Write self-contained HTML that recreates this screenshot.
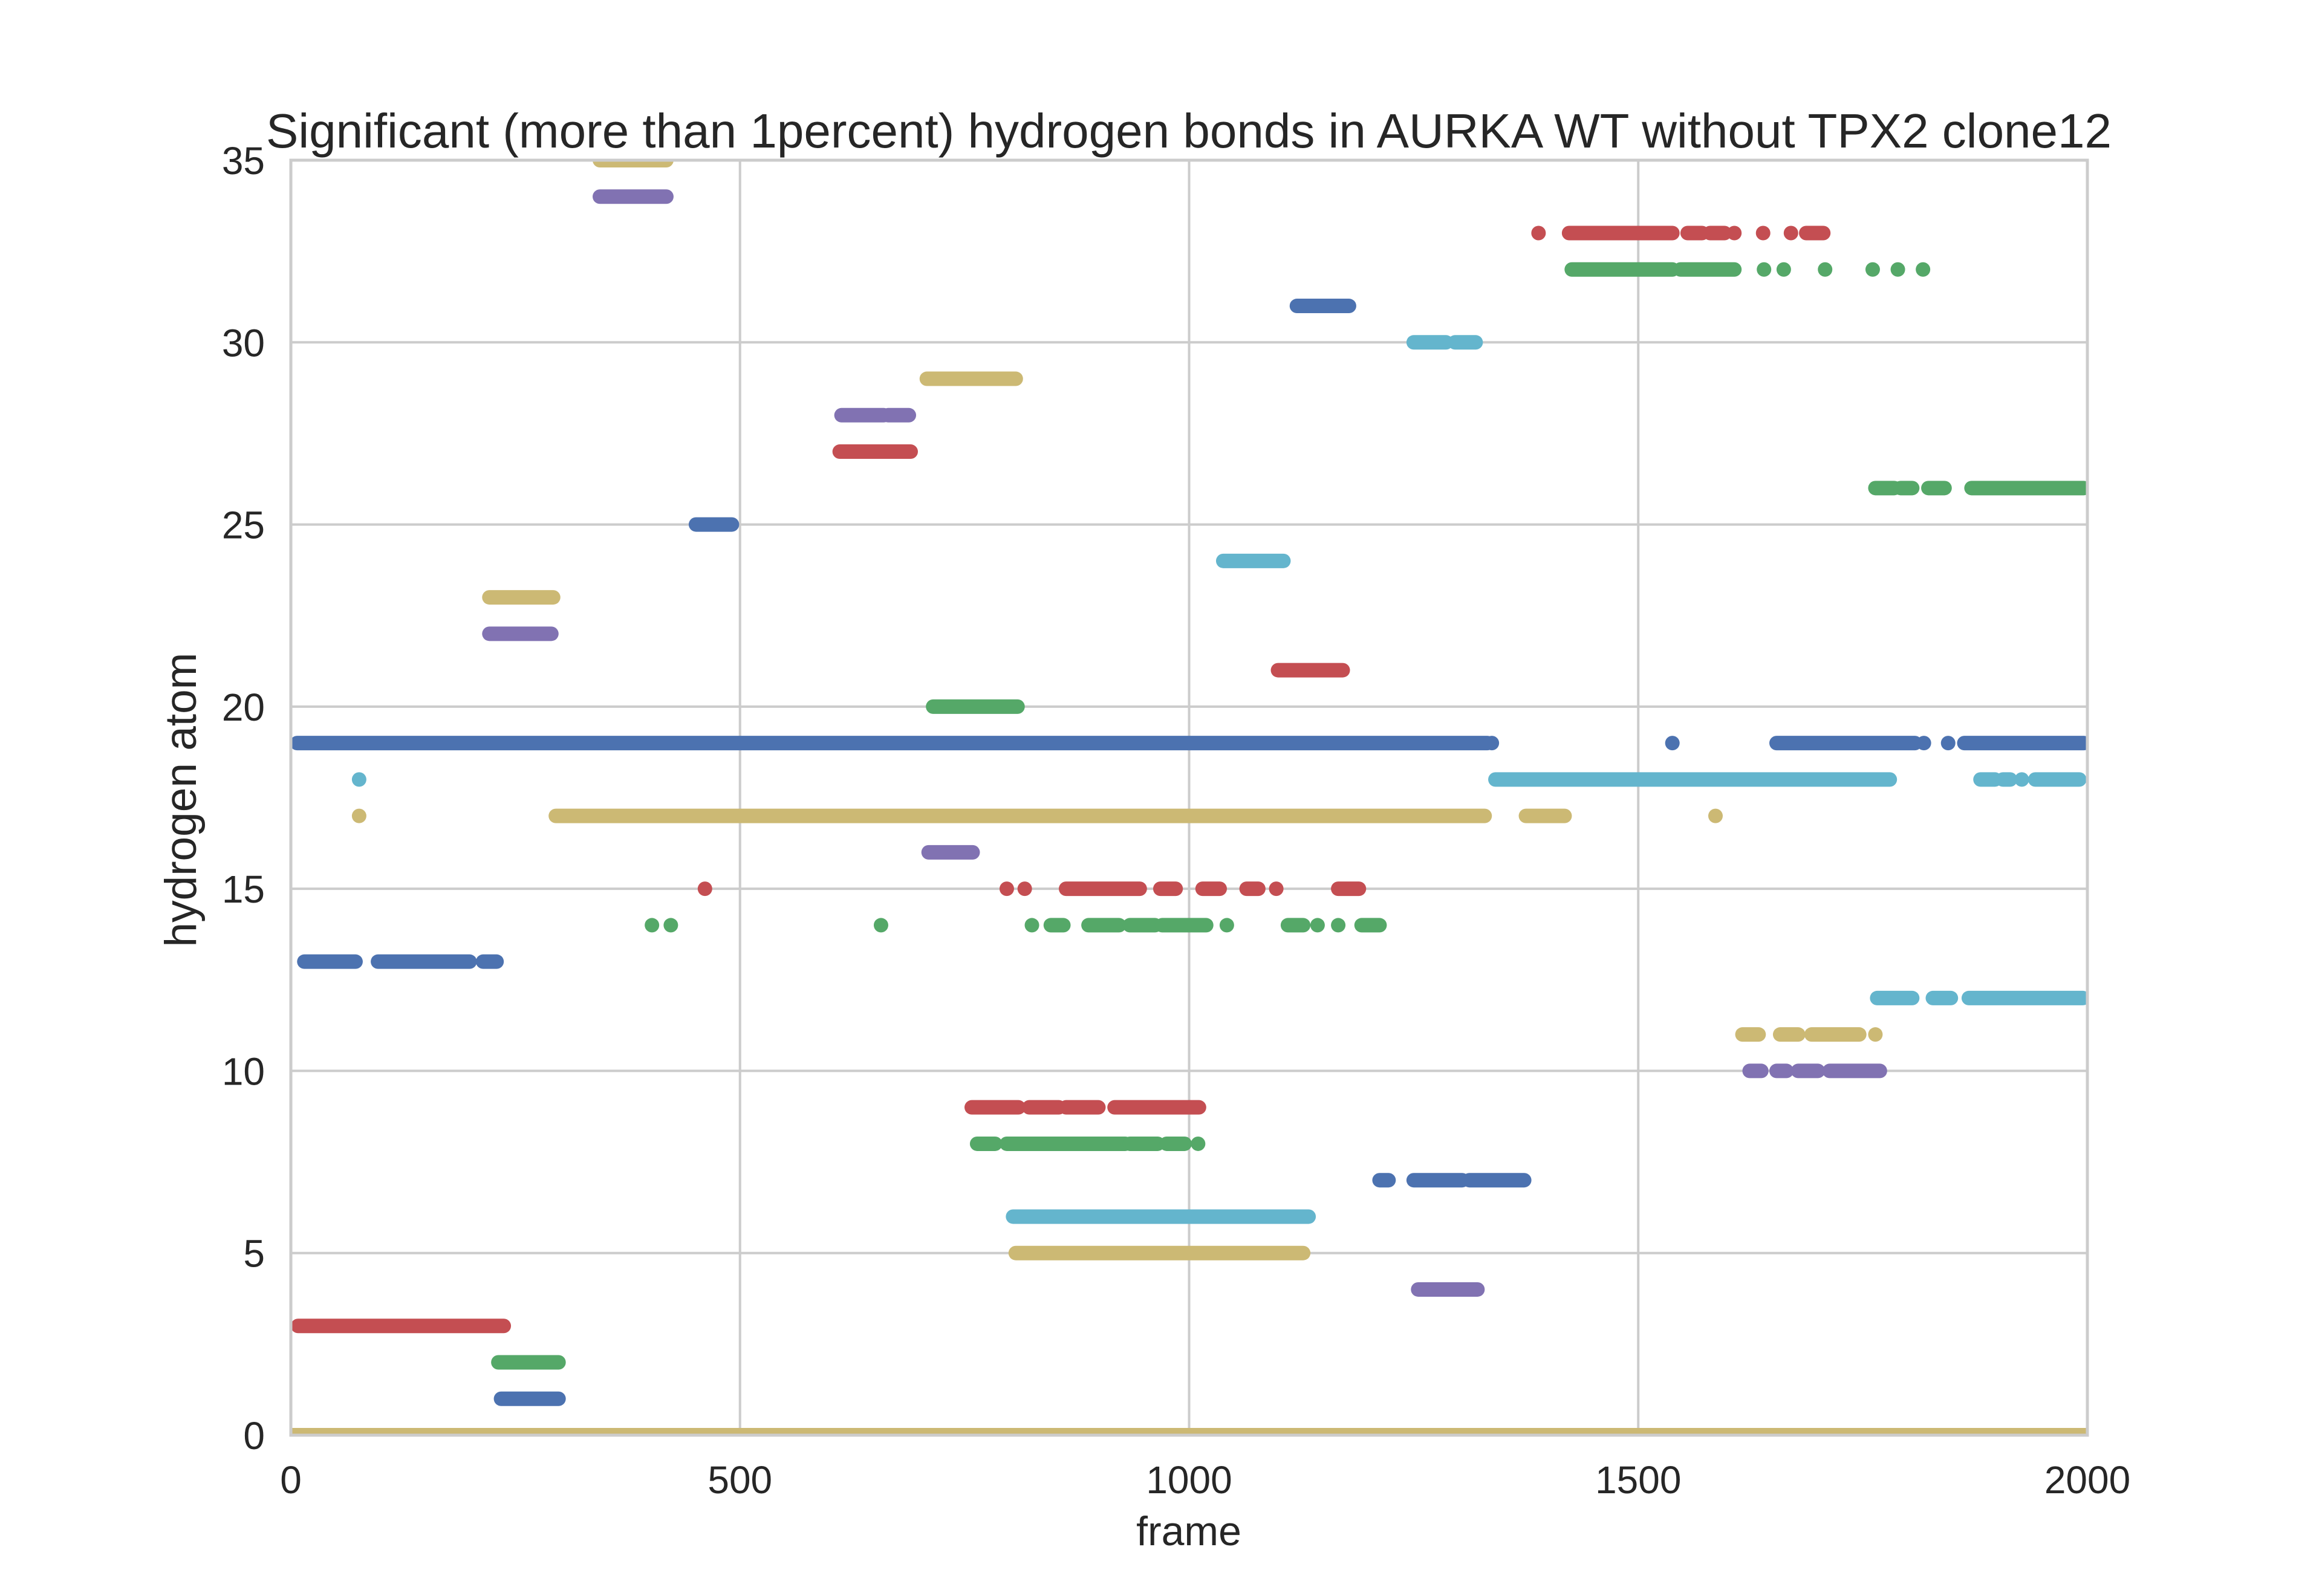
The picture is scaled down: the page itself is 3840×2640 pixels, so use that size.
<!DOCTYPE html>
<html><head><meta charset="utf-8"><style>
html,body{margin:0;padding:0;background:#fff;}
svg{display:block;}
text{font-family:"Liberation Sans",sans-serif;fill:#262626;}
</style></head><body>
<svg id="chart" width="3840" height="2640" viewBox="0 0 3840 2640">
<defs><clipPath id="plotclip"><rect x="481" y="265" width="2971" height="2109"/></clipPath></defs>
<rect x="481" y="265" width="2971" height="2109" fill="#fff"/>
<g id="grid"></g>
<g id="marks" clip-path="url(#plotclip)"></g>
<rect x="481" y="265" width="2971" height="2109" fill="none" stroke="#cccccc" stroke-width="5"/>
<g id="ticks"></g>
<text x="1966" y="244" font-size="80" text-anchor="middle">Significant (more than 1percent) hydrogen bonds in AURKA WT without TPX2 clone12</text>
<text x="1966" y="2556" font-size="68" text-anchor="middle">frame</text>
<text x="0" y="0" font-size="73" text-anchor="middle" transform="translate(324,1323) rotate(-90)">hydrogen atom</text>
</svg>
<script>
const xTicks = [0, 500, 1000, 1500, 2000];
const yTicks = [0, 5, 10, 15, 20, 25, 30, 35];
const palette = ["#4c72b0", "#55a868", "#c44e52", "#8172b2", "#ccb974", "#64b5cd"];
// each entry: [hydrogen atom index, startFrame, endFrame]
const runs = [
[35,344,418],[34,344,418],
[33,1389,1389],[33,1423,1538],[33,1555,1571],[33,1580,1596],[33,1607,1607],[33,1639,1639],[33,1670,1670],[33,1687,1706],
[32,1426,1538],[32,1547,1607],[32,1640,1640],[32,1662,1662],[32,1708,1708],[32,1761,1761],[32,1789,1789],[32,1817,1817],
[31,1120,1178],
[30,1250,1286],[30,1296,1319],
[29,708,807],
[28,613,660],[28,665,688],
[27,611,690],
[26,1764,1785],[26,1792,1805],[26,1823,1841],[26,1871,1996],
[25,451,491],
[24,1038,1105],
[23,221,292],[22,221,290],
[21,1099,1171],
[20,715,809],
[19,7,1332],[19,1337,1337],[19,1538,1538],[19,1654,1808],[19,1818,1818],[19,1845,1845],[19,1863,1996],
[18,76,76],[18,1341,1780],[18,1881,1897],[18,1906,1914],[18,1927,1927],[18,1942,1991],
[17,76,76],[17,295,1329],[17,1375,1418],[17,1586,1586],
[16,710,759],
[15,461,461],[15,797,797],[15,817,817],[15,863,945],[15,968,985],[15,1015,1034],[15,1064,1077],[15,1097,1097],[15,1166,1189],
[14,402,402],[14,423,423],[14,657,657],[14,825,825],[14,846,860],[14,888,922],[14,934,962],[14,970,1019],[14,1042,1042],[14,1110,1127],[14,1143,1143],[14,1166,1166],[14,1192,1212],
[13,15,72],[13,97,199],[13,214,229],
[12,1766,1805],[12,1828,1848],[12,1868,1995],
[11,1616,1634],[11,1658,1678],[11,1693,1746],[11,1764,1764],
[10,1624,1637],[10,1654,1665],[10,1678,1700],[10,1713,1769],
[9,758,810],[9,822,855],[9,863,899],[9,917,1011],
[8,764,784],[8,797,929],[8,934,965],[8,975,995],[8,1010,1010],
[7,1212,1222],[7,1250,1304],[7,1312,1373],
[6,804,1133],
[5,807,1127],
[4,1255,1321],
[3,8,237],
[2,231,298],
[1,234,298],
[0,0,2000]
];
const X0=481, X1=3452, Y0=2374, Y1=265;
function xs(v){return X0+(v-0)/(2000-0)*(X1-X0);}
function ys(v){return Y0-(v-0)/(35-0)*(Y0-Y1);}
function colorFor(h){return h===0 ? "#ccb974" : palette[(h-1)%6];}
const NS="http://www.w3.org/2000/svg";
const grid=document.getElementById('grid'), marks=document.getElementById('marks'), ticks=document.getElementById('ticks');
xTicks.forEach(t=>{
  const l=document.createElementNS(NS,'line');
  
  
  l.setAttribute('x1',xs(t));l.setAttribute('x2',xs(t));l.setAttribute('y1',Y1);l.setAttribute('y2',Y0);
  l.setAttribute('stroke','#cccccc');l.setAttribute('stroke-width','4');
  grid.appendChild(l);
  const tx=document.createElementNS(NS,'text');
  
  
  tx.setAttribute('x',xs(t));tx.setAttribute('y',2470);tx.setAttribute('font-size','64');tx.setAttribute('text-anchor','middle');
  tx.textContent=t;ticks.appendChild(tx);
});
yTicks.forEach(t=>{
  const l=document.createElementNS(NS,'line');
  
  
  l.setAttribute('x1',X0);l.setAttribute('x2',X1);l.setAttribute('y1',ys(t));l.setAttribute('y2',ys(t));
  l.setAttribute('stroke','#cccccc');l.setAttribute('stroke-width','4');
  grid.appendChild(l);
  const tx=document.createElementNS(NS,'text');
  
  
  tx.setAttribute('x',438);tx.setAttribute('y',ys(t)+23);tx.setAttribute('font-size','64');tx.setAttribute('text-anchor','end');
  tx.textContent=t;ticks.appendChild(tx);
});
runs.forEach(r=>{
  const l=document.createElementNS(NS,'line');
  
  
  l.setAttribute('x1',xs(r[1]));l.setAttribute('x2',xs(r[2]));
  l.setAttribute('y1',ys(r[0]));l.setAttribute('y2',ys(r[0]));
  l.setAttribute('stroke',colorFor(r[0]));
  l.setAttribute('stroke-width','24');l.setAttribute('stroke-linecap','round');
  marks.appendChild(l);
});
</script>
</body></html>
